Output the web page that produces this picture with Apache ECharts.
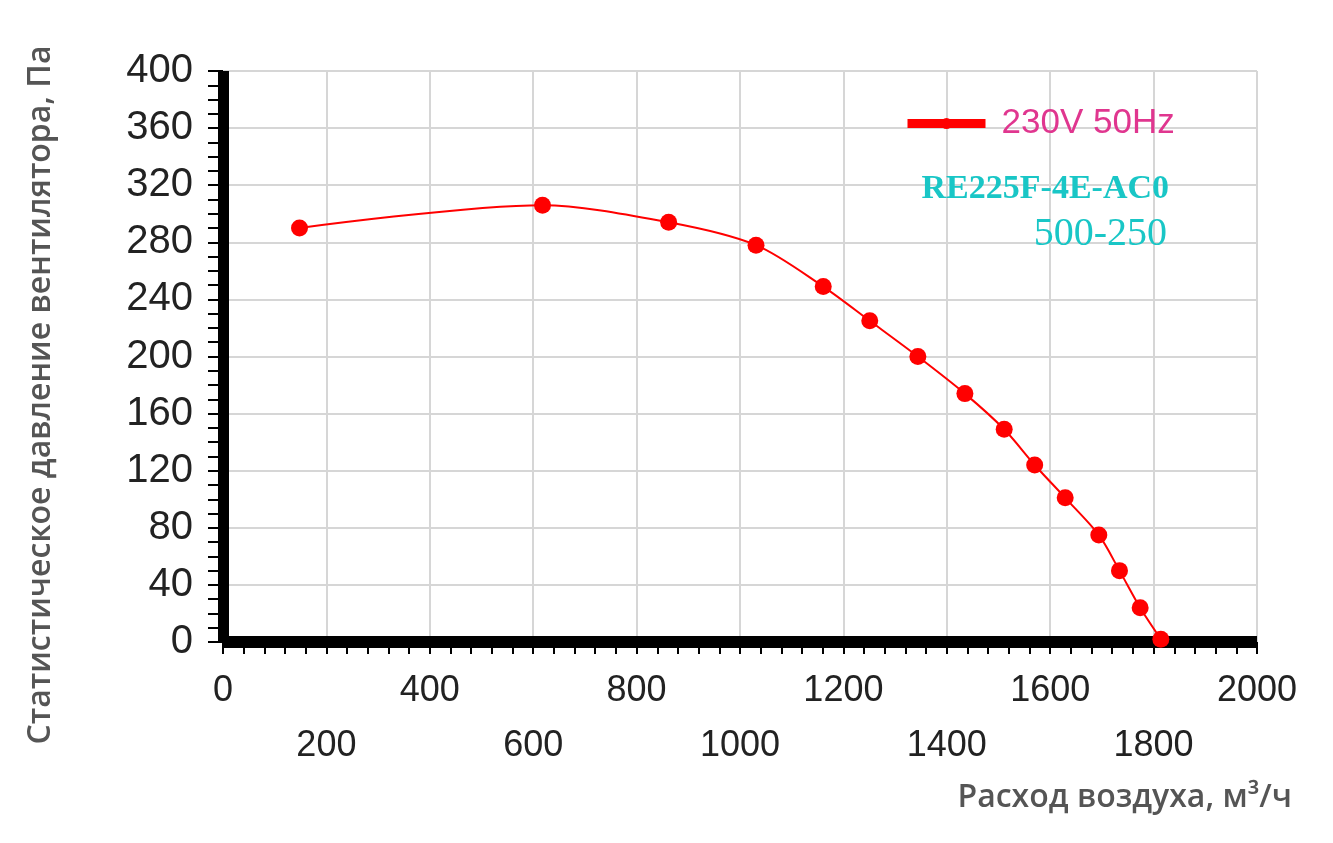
<!DOCTYPE html>
<html>
<head>
<meta charset="utf-8">
<title>RE225F-4E-AC0</title>
<script src="https://cdn.jsdelivr.net/npm/echarts@6/dist/echarts.min.js"></script>
<style>
	html, body { margin: 0; padding: 0; background: #fff; }
	#chart { width: 1333px; height: 843px; }
</style>
</head>
<body>
<div id="chart"></div>
<script>
// расход воздуха, м3/ч
var flow = [148, 618, 862, 1031, 1161, 1251, 1344, 1435, 1511, 1570, 1629, 1694, 1734, 1774, 1814]
// статическое давление, Па
var pressure = [290, 306, 294, 278, 249, 225, 200, 174, 149, 124, 101, 75, 50, 24, 2]

var seriesName = '230V 50Hz'
var modelName = 'RE225F-4E-AC0'
var sizeName = '500-250'
var xTitle = 'Расход воздуха, м³/ч'
var yTitle = 'Статистическое давление вентилятора, Па'

var points = flow.map(function (x, i) { return [x, pressure[i]] })

var myChart = echarts.init(document.getElementById('chart'));

var gridLine = { show: true, lineStyle: { color: '#d6d6d6', width: 2 } }
var tickLine = { color: '#000', width: 2 }

myChart.setOption({
	animation: false,
	grid: { left: 223, right: 76, top: 71, bottom: 201 },
	title: [
		{
			text: modelName, right: 164, top: 172, padding: 0,
			textStyle: { fontFamily: 'Liberation Serif', fontWeight: 'bold', fontSize: 34, color: '#19c6c6' }
		},
		{
			text: sizeName, right: 166, top: 214, padding: 0,
			textStyle: { fontFamily: 'Liberation Serif', fontWeight: 'normal', fontSize: 40, color: '#19c6c6' }
		}
	],
	legend: {
		left: 903, top: 106, padding: 0,
		itemWidth: 78, itemHeight: 14,
		lineStyle: { width: 9 },
		textStyle: { fontFamily: 'Liberation Sans', fontSize: 35, color: '#e0368f', padding: [0, 0, 0, 11] },
		data: [seriesName]
	},
	xAxis: {
		type: 'value', min: 0, max: 2000, interval: 200,
		axisLine: { lineStyle: { color: '#000', width: 12, cap: 'butt' } },
		axisTick: { length: 12, lineStyle: tickLine },
		minorTick: { show: true, splitNumber: 5, length: 12, lineStyle: tickLine },
		splitLine: gridLine,
		axisLabel: {
			fontFamily: 'Liberation Sans', fontSize: 36, color: '#222', lineHeight: 55, margin: 22,
			formatter: function (v) { return (v / 200) % 2 ? '\n' + v : '' + v }
		}
	},
	yAxis: {
		type: 'value', min: 0, max: 400, interval: 40,
		axisLine: { show: true, lineStyle: { color: '#000', width: 11, cap: 'butt' } },
		axisTick: { show: true, length: 15, lineStyle: tickLine },
		minorTick: { show: true, splitNumber: 4, length: 15, lineStyle: tickLine },
		splitLine: gridLine,
		axisLabel: { fontFamily: 'Liberation Sans', fontSize: 40, color: '#222', margin: 30 }
	},
	graphic: [
		{
			type: 'text', x: 41, y: 395, rotation: Math.PI / 2,
			style: {
				text: yTitle, align: 'center', verticalAlign: 'middle',
				font: '600 32px "Open Sans"', fill: '#555'
			}
		},
		{
			type: 'text', x: 1292, y: 798,
			style: {
				text: xTitle, align: 'right', verticalAlign: 'middle',
				font: '600 32px "Open Sans"', fill: '#555'
			}
		}
	],
	series: [{
		name: seriesName,
		type: 'line',
		smooth: 0.3,
		symbol: 'circle',
		symbolSize: 17,
		itemStyle: { color: '#ff0000' },
		lineStyle: { color: '#ff0000', width: 2 },
		data: points
	}]
});

window.addEventListener('resize', function () {
	myChart.resize();
})
</script>
</body>
</html>
